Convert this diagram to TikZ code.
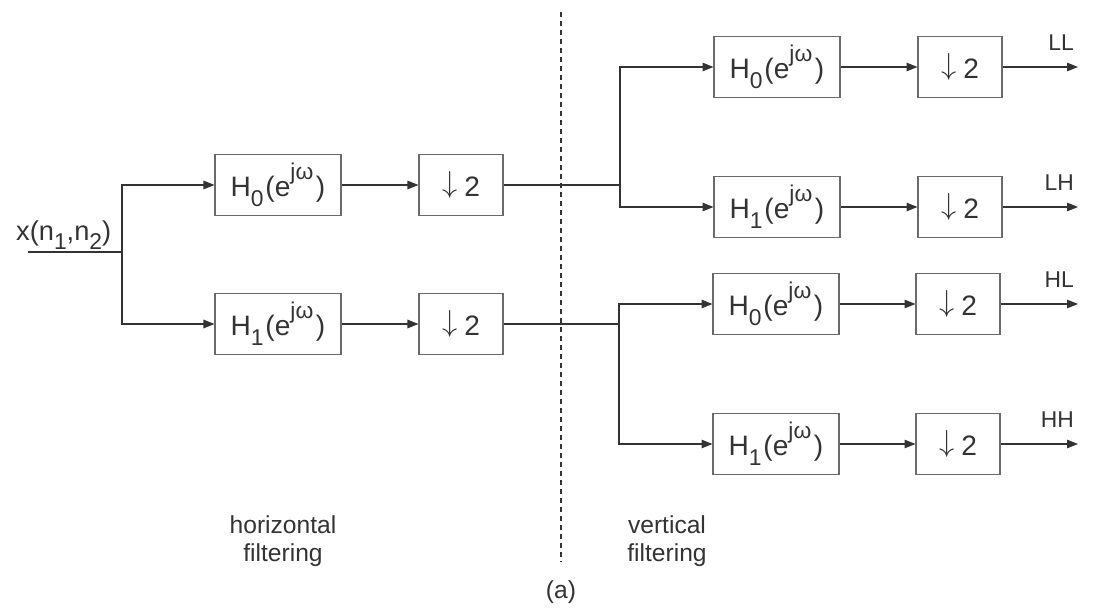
\documentclass[tikz,border=0pt]{standalone}
\usepackage{fontspec}
\setmainfont{Liberation Sans}
\usetikzlibrary{arrows.meta,positioning}

\definecolor{inkgray}{HTML}{333333}
\definecolor{boxgray}{HTML}{6A6A6A}
\newcommand{\subtxt}[1]{\raisebox{-0.65ex}{\fontsize{13}{14}\selectfont #1}}
\newcommand{\suptxt}[1]{\raisebox{1.15ex}{\fontsize{13}{14}\selectfont #1}}
\newcommand{\dsym}{\raisebox{0.25ex}{$\downarrow$}\kern4pt2}

\begin{document}
\begin{tikzpicture}[x=0.02cm, y=-0.02cm,
    filt/.style={rectangle, draw=boxgray, line width=0.6pt, minimum width=2.52cm, minimum height=1.22cm, inner sep=0pt, font=\fontsize{16}{18}\selectfont, text=inkgray},
    decim/.style={filt, minimum width=1.68cm},
    wire/.style={draw=inkgray, line width=0.7pt},
    arrow/.style={wire, -{Triangle[length=2.2mm,width=1.7mm]}},
    txt/.style={text=inkgray, font=\fontsize{13}{15}\selectfont, align=center}
]
\useasboundingbox (0,0) rectangle (1094,608);

% Input
\coordinate (in) at (28,252);
\coordinate (split1) at (122,252);
\node[txt, anchor=base west, font=\fontsize{15.5}{17}\selectfont] (xin) at (10,240) {x(n\subtxt{1},n\subtxt{2})};

% Horizontal filtering stage
\node[filt] (h0a) at (278,185) {H\subtxt{0}\kern1pt(e\suptxt{jω}\kern1.5pt)};
\node[filt] (h1a) at (278,324) {H\subtxt{1}\kern1pt(e\suptxt{jω}\kern1.5pt)};
\node[decim] (d0a) at (461,185) {\dsym};
\node[decim] (d1a) at (461,324) {\dsym};

% Vertical filtering stage
\node[filt] (h0b) at (777,67) {H\subtxt{0}\kern1pt(e\suptxt{jω}\kern1.5pt)};
\node[filt] (h1b) at (777,207) {H\subtxt{1}\kern1pt(e\suptxt{jω}\kern1.5pt)};
\node[filt] (h0c) at (776,304) {H\subtxt{0}\kern1pt(e\suptxt{jω}\kern1.5pt)};
\node[filt] (h1c) at (776,444) {H\subtxt{1}\kern1pt(e\suptxt{jω}\kern1.5pt)};
\node[decim] (d0b) at (960,67) {\dsym};
\node[decim] (d1b) at (960,207) {\dsym};
\node[decim] (d0c) at (958,304) {\dsym};
\node[decim] (d1c) at (958,444) {\dsym};

% Branch points
\coordinate (split2) at (620,185);
\coordinate (split3) at (619,324);

% Outputs
\coordinate (outLL) at (1078,67);
\coordinate (outLH) at (1078,207);
\coordinate (outHL) at (1078,304);
\coordinate (outHH) at (1078,444);
\node[txt, anchor=south east] at ([xshift=0.04cm,yshift=0.2cm]outLL) {LL};
\node[txt, anchor=south east] at ([xshift=0.04cm,yshift=0.2cm]outLH) {LH};
\node[txt, anchor=south east] at ([xshift=0.04cm,yshift=0.2cm]outHL) {HL};
\node[txt, anchor=south east] at ([xshift=0.04cm,yshift=0.2cm]outHH) {HH};

% Connections
\draw[wire] (in) -- (split1);
\draw[arrow] (split1) |- (h0a.west);
\draw[arrow] (split1) |- (h1a.west);
\draw[arrow] (h0a) -- (d0a);
\draw[arrow] (h1a) -- (d1a);

\draw[wire] (d0a.east) -- (split2);
\draw[wire] (d1a.east) -- (split3);
\draw[arrow] (split2) |- (h0b.west);
\draw[arrow] (split2) |- (h1b.west);
\draw[arrow] (split3) |- (h0c.west);
\draw[arrow] (split3) |- (h1c.west);

\draw[arrow] (h0b) -- (d0b);
\draw[arrow] (h1b) -- (d1b);
\draw[arrow] (h0c) -- (d0c);
\draw[arrow] (h1c) -- (d1c);
\draw[arrow] (d0b) -- (outLL);
\draw[arrow] (d1b) -- (outLH);
\draw[arrow] (d0c) -- (outHL);
\draw[arrow] (d1c) -- (outHH);

% Divider and captions
\coordinate (divtop) at (561,12);
\coordinate (divbot) at (561,562);
\draw[draw=inkgray, line width=0.6pt, dash pattern=on 1mm off 0.8mm] (divtop) -- (divbot);
\node[txt, font=\fontsize{14}{16}\selectfont] (horiz) at (283,541) {horizontal\\filtering};
\node[txt, font=\fontsize{14}{16}\selectfont] (vert) at (667,541) {vertical\\filtering};
\node[txt, font=\fontsize{14}{16}\selectfont] (cap) at (561,592) {(a)};

\end{tikzpicture}
\end{document}
